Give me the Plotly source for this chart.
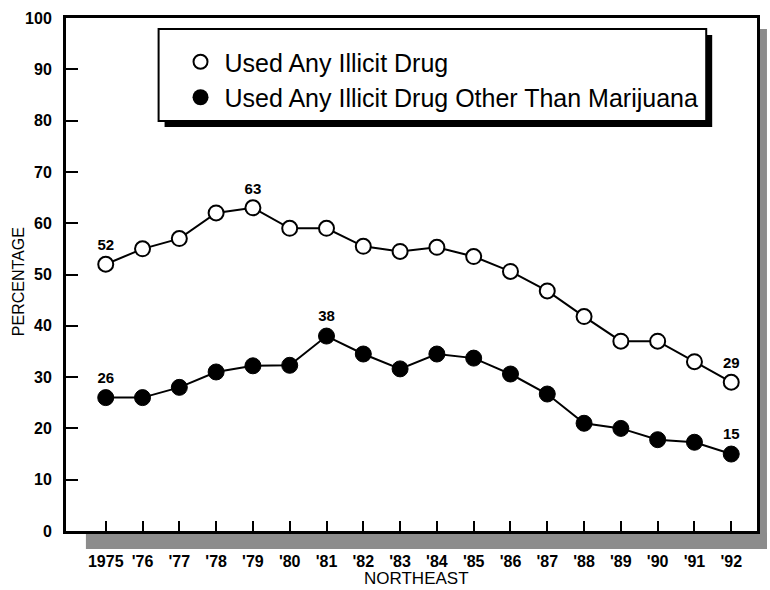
import plotly.graph_objects as go

years = list(range(1975, 1993))
tick_labels = ["1975", "'76", "'77", "'78", "'79", "'80", "'81", "'82", "'83",
               "'84", "'85", "'86", "'87", "'88", "'89", "'90", "'91", "'92"]
any_drug = [52, 55, 57, 62, 63, 59, 59, 55.5, 54.5, 55.3, 53.5, 50.6, 46.8, 41.8, 37, 37, 33, 29]
other_drug = [26, 26, 28, 31, 32.2, 32.3, 38, 34.5, 31.6, 34.5, 33.7, 30.6, 26.7, 21, 20, 17.8, 17.3, 15]
label_idx_any = [0, 4, 17]
label_idx_other = [0, 6, 17]
series_names = ["Used Any Illicit Drug", "Used Any Illicit Drug Other Than Marijuana"]

FONT = "Liberation Sans, Arial, Helvetica, sans-serif"

def labels(vals, idx):
    return [f"{v:g}" if i in idx else "" for i, v in enumerate(vals)]

fig = go.Figure()
fig.add_trace(go.Scatter(
    x=years, y=any_drug, mode="lines+markers+text",
    text=labels(any_drug, label_idx_any), textposition="top center",
    textfont=dict(family=FONT, size=15, color="black", weight="bold"),
    line=dict(color="black", width=2),
    marker=dict(symbol="circle", size=15, color="white", line=dict(color="black", width=2)),
    showlegend=False, cliponaxis=False))
fig.add_trace(go.Scatter(
    x=years, y=other_drug, mode="lines+markers+text",
    text=labels(other_drug, label_idx_other), textposition="top center",
    textfont=dict(family=FONT, size=15, color="black", weight="bold"),
    line=dict(color="black", width=2),
    marker=dict(symbol="circle", size=16, color="black", line=dict(color="black", width=1)),
    showlegend=False, cliponaxis=False))
# legend-only entries (markers only, as in the original key)
fig.add_trace(go.Scatter(x=[None], y=[None], mode="markers", name=series_names[0],
                         marker=dict(symbol="circle", size=14, color="white",
                                     line=dict(color="black", width=2))))
fig.add_trace(go.Scatter(x=[None], y=[None], mode="markers", name=series_names[1],
                         marker=dict(symbol="circle", size=16, color="black")))

W0, W1 = 66, 760
H0, H1 = 18, 531
def xp(px):
    return (px - W0) / (W1 - W0)
def yp(py):
    return (H1 - py) / (H1 - H0)

shapes = [
    # frame shadow (hatched in original)
    dict(type="rect", xref="paper", yref="paper", x0=xp(86), x1=xp(770), y0=yp(549), y1=yp(532.5),
         fillcolor="#8c8c8c", line=dict(width=0), layer="below"),
    dict(type="rect", xref="paper", yref="paper", x0=xp(761.5), x1=xp(770), y0=yp(549), y1=yp(29),
         fillcolor="#8c8c8c", line=dict(width=0), layer="below"),
    # legend box shadow and box
    dict(type="rect", xref="paper", yref="paper", x0=xp(165), x1=xp(715), y0=yp(127), y1=yp(35),
         fillcolor="black", line=dict(width=0)),
    dict(type="rect", xref="paper", yref="paper", x0=xp(159), x1=xp(709), y0=yp(121), y1=yp(29),
         fillcolor="white", line=dict(color="black", width=2)),
]

annotations = [
    dict(text="NORTHEAST", xref="paper", yref="paper", x=xp(418), y=yp(578),
         showarrow=False, xanchor="center", yanchor="middle",
         font=dict(family=FONT, size=17, color="black")),
    dict(text="PERCENTAGE", xref="paper", yref="paper", x=xp(18), y=yp(282),
         showarrow=False, xanchor="center", yanchor="middle", textangle=-90,
         font=dict(family=FONT, size=16, color="black")),
]

fig.update_layout(
    width=770, height=590,
    margin=dict(l=W0, r=770 - W1, t=H0, b=590 - H1),
    paper_bgcolor="white", plot_bgcolor="white",
    font=dict(family=FONT, color="black"),
    shapes=shapes, annotations=annotations,
    legend=dict(x=xp(177), y=yp(39), xanchor="left", yanchor="top",
                bgcolor="rgba(0,0,0,0)", borderwidth=0,
                font=dict(family=FONT, size=25, color="black"),
                itemwidth=38, tracegroupgap=0),
)
fig.update_xaxes(
    range=[1973.92, 1992.70], tickvals=years, ticktext=tick_labels,
    showgrid=False, zeroline=False, showline=True, linecolor="black", linewidth=3,
    mirror=True, ticks="inside", ticklen=10, tickwidth=2, tickcolor="black",
    ticklabelstandoff=14,
    tickfont=dict(family=FONT, size=16, color="black", weight="bold"),
)
fig.update_yaxes(
    range=[0, 100], tickvals=list(range(0, 101, 10)),
    showgrid=False, zeroline=False, showline=True, linecolor="black", linewidth=3,
    mirror=True, ticks="inside", ticklen=12, tickwidth=2, tickcolor="black",
    ticklabelstandoff=8,
    tickfont=dict(family=FONT, size=16, color="black", weight="bold"),
)

fig.write_html("out.html", config={"displayModeBar": False},
               post_script="document.body.style.margin='0';")
